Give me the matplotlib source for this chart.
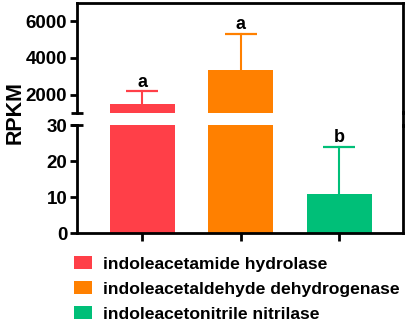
import matplotlib
matplotlib.use("Agg")
import matplotlib.pyplot as plt
from matplotlib.patches import Patch
from matplotlib.lines import Line2D

# data
enzymes = ["indoleacetamide hydrolase", "indoleacetaldehyde dehydrogenase", "indoleacetonitrile nitrilase"]
rpkm = [1510, 3330, 10.7]
rpkm_err = [690, 2000, 13.3]
letters = ["a", "a", "b"]
colors = ["#FF3F48", "#FF8000", "#00BF78"]

plt.rcParams["font.family"] = ["Liberation Sans", "DejaVu Sans"]
plt.rcParams["font.weight"] = "bold"

W, H = 408, 326
fig = plt.figure(figsize=(W / 100, H / 100), dpi=100)

def px_axes(left, top, right, bottom):
    return fig.add_axes([left / W, 1 - bottom / H, (right - left) / W, (bottom - top) / H])

ax_top = px_axes(77, 3, 403, 113)
ax_bot = px_axes(77, 125, 403, 233)

x = list(range(len(enzymes)))
lw = 2.0
for ax in (ax_top, ax_bot):
    ax.bar(x, rpkm, width=0.66, color=colors, zorder=2)
    for i in x:
        # only the upper half of the error bar, with a cap
        top = rpkm[i] + rpkm_err[i]
        ax.plot([i, i], [rpkm[i], top], color=colors[i], lw=1.5, zorder=1)
        ax.plot([i], [top], marker="_", ms=23, mew=1.6, color=colors[i], zorder=1)
    ax.set_xlim(-0.665, 2.645)
    for s in ax.spines.values():
        s.set_linewidth(lw)
    ax.tick_params(axis="y", width=lw, length=5, labelsize=13.5, pad=2)

ax_top.set_ylim(1000, 7000)
ax_top.set_yticks([2000, 4000, 6000])
ax_top.spines["bottom"].set_visible(False)
ax_top.tick_params(axis="x", bottom=False, labelbottom=False)

ax_bot.set_ylim(0, 30)
ax_bot.set_yticks([0, 10, 20, 30])
ax_bot.spines["top"].set_visible(False)
ax_bot.set_xticks(x)
ax_bot.set_xticklabels([])
ax_bot.tick_params(axis="x", width=lw, length=6)

# caps at the ends of the broken axis
ax_top.plot([0], [0], marker="_", ms=9, mew=lw, color="black",
            transform=ax_top.transAxes, clip_on=False)
ax_bot.plot([0], [1], marker="_", ms=9, mew=lw, color="black",
            transform=ax_bot.transAxes, clip_on=False)
# right frame line runs through the gap
fig.add_artist(Line2D([403 / W, 403 / W], [1 - 112 / H, 1 - 126 / H],
                      color="black", lw=lw, transform=fig.transFigure))

# significance letters
for i in x:
    ax = ax_top if rpkm[i] > 30 else ax_bot
    ax.annotate(letters[i], (i, rpkm[i] + rpkm_err[i]), xytext=(0, 3),
                textcoords="offset points", ha="center", va="baseline",
                fontsize=13, fontweight="bold")

fig.text(15 / W, 1 - 112 / H, "RPKM", rotation=90, ha="center", va="center",
         fontsize=15.5, fontweight="bold")

handles = [Patch(facecolor=c, edgecolor="none") for c in colors]
fig.legend(handles, enzymes, loc="upper left", bbox_to_anchor=(74 / W, 1 - 256 / H),
           frameon=False, fontsize=12.6, handlelength=1.03, handleheight=0.75,
           handletextpad=0.63, labelspacing=0.55, borderaxespad=0, borderpad=0)

fig.savefig("out.png", dpi=100)
